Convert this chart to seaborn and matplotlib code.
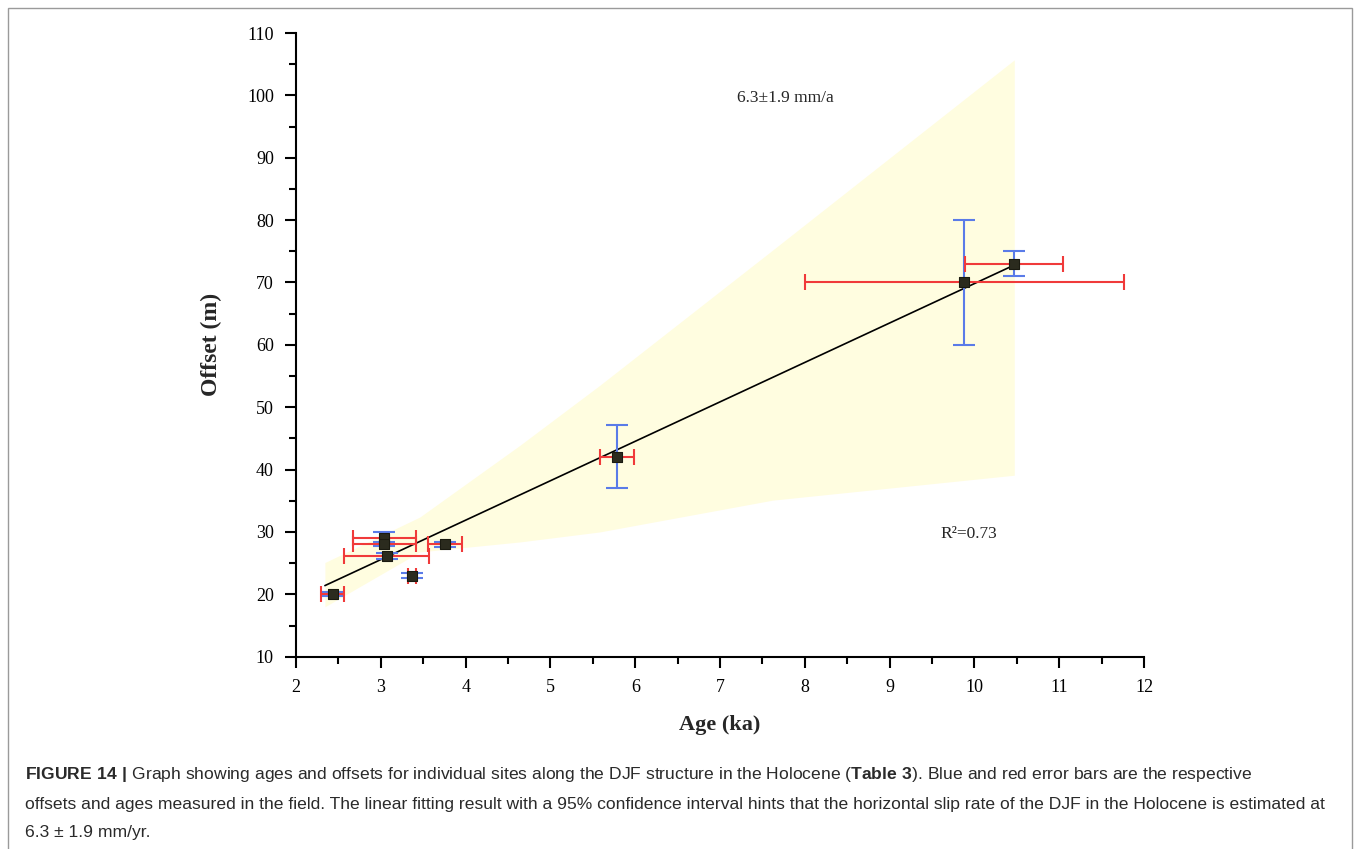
import numpy as np
import pandas as pd
import matplotlib
matplotlib.use("Agg")
import matplotlib.pyplot as plt
import seaborn as sns
from matplotlib.patches import Rectangle
from matplotlib.ticker import MultipleLocator

# Site ages (ka) and offsets (m)
age = [2.43, 3.04, 3.04, 3.07, 3.37, 3.76, 5.79, 9.88, 10.47]
offset = [20.0, 29.0, 28.1, 26.1, 23.0, 28.0, 42.1, 70.0, 73.0]
age_err = [0.14, 0.37, 0.37, 0.50, 0.05, 0.20, 0.20, 1.88, 0.58]
offset_err = [0.3, 1.0, 0.3, 0.5, 0.4, 0.4, 5.0, 10.0, 2.0]

# Linear fit end points and the shaded confidence wedge
fit_x = [2.34, 10.47]
fit_y = [21.4, 72.8]
band_x = [2.34, 3.46, 4.64, 5.58, 7.62, 10.47]
band_lo = [18.0, 26.8, 28.4, 30.0, 35.1, 39.1]
band_hi = [25.1, 32.4, 43.9, 53.5, 75.2, 105.7]

x_ticks = list(range(2, 13))
y_ticks = list(range(10, 111, 10))

sns.set_theme(style="ticks")
plt.rcParams['font.family'] = ['Liberation Serif', 'DejaVu Serif']
plt.rcParams['mathtext.fontset'] = 'custom'
plt.rcParams['mathtext.rm'] = 'Liberation Sans'
plt.rcParams['mathtext.bf'] = 'Liberation Sans:bold'

df = pd.DataFrame({"age": age, "offset": offset})

fig = plt.figure(figsize=(13.55, 8.49), dpi=100)
ax = fig.add_axes([0.2185, 0.2265, 0.6258, 0.7346])

# confidence band
ax.fill_between(band_x, band_lo, band_hi, color='#fffde0', lw=0, zorder=1)

# fitted line
sns.lineplot(x=fit_x, y=fit_y, ax=ax, color='black', lw=1.2, zorder=3)

# error bars: offsets (blue, vertical) and ages (red, horizontal)
ax.errorbar(age, offset, yerr=offset_err, fmt='none', ecolor='#5a7be8',
            elinewidth=1.5, capsize=8, capthick=1.5, zorder=4)
ax.errorbar(age, offset, xerr=age_err, fmt='none', ecolor='#f03a3a',
            elinewidth=1.5, capsize=6, capthick=1.5, zorder=5)

sns.scatterplot(data=df, x="age", y="offset", ax=ax, marker='s', s=45,
                color='#2b2b1e', edgecolor='#1a1a10', linewidth=0.8, zorder=6)

ax.set_xlim(2, 12)
ax.set_ylim(10, 110)
ax.set_xticks(x_ticks)
ax.set_yticks(y_ticks)
ax.xaxis.set_minor_locator(MultipleLocator(0.5))
ax.yaxis.set_minor_locator(MultipleLocator(5))
ax.tick_params(which='major', direction='out', length=8, width=1.5,
               labelsize=13, color='black', labelcolor='black', pad=8)
ax.tick_params(which='minor', direction='out', length=5, width=1.5, color='black')
for side in ['top', 'right']:
    ax.spines[side].set_visible(False)
for side in ['left', 'bottom']:
    ax.spines[side].set_linewidth(1.5)
    ax.spines[side].set_color('black')

ax.set_xlabel('Age (ka)', fontsize=16, fontweight='bold', labelpad=14)
ax.set_ylabel('Offset (m)', fontsize=17, fontweight='bold', labelpad=18)

ax.text(7.2, 99.6, '6.3\u00b11.9 mm/a', fontsize=12.5, va='center', ha='left')
ax.text(9.6, 29.6, 'R\u00b2=0.73', fontsize=12.5, va='center', ha='left')

# outer frame and caption
fig.patches.append(Rectangle((0.006, -0.02), 0.992, 1.01, transform=fig.transFigure,
                             fill=False, edgecolor='#9a9a9a', lw=1.0))
cap_kw = dict(fontsize=12.6, color='#2a2a2a', family=['Liberation Sans', 'DejaVu Sans'],
              ha='left', va='center')
fig.text(0.0185, 1 - 774 / 849,
         r'$\mathbf{FIGURE\ 14\ |}$ Graph showing ages and offsets for individual sites along the DJF '
         r'structure in the Holocene ($\mathbf{Table\ 3}$). Blue and red error bars are the respective',
         **cap_kw)
fig.text(0.0185, 1 - 804 / 849,
         'offsets and ages measured in the field. The linear fitting result with a 95% confidence '
         'interval hints that the horizontal slip rate of the DJF in the Holocene is estimated at',
         **cap_kw)
fig.text(0.0185, 1 - 833 / 849, '6.3 \u00b1 1.9 mm/yr.', **cap_kw)

fig.savefig('out.png', dpi=100)
